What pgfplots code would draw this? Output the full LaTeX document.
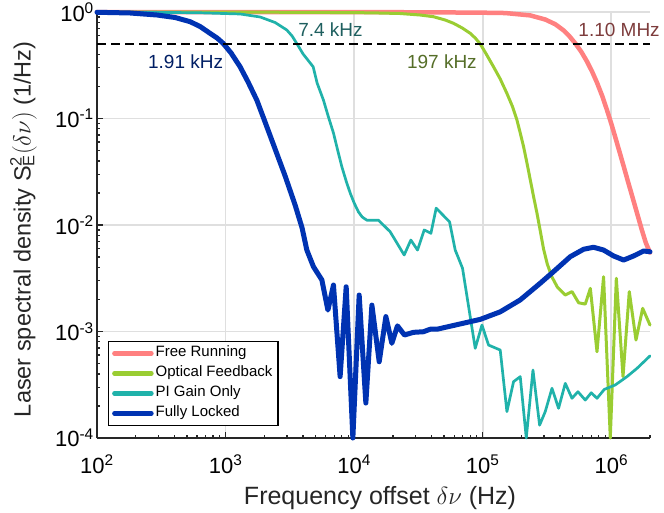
\documentclass[border=0pt]{standalone}
\usepackage[no-math]{fontspec}
\setmainfont{Liberation Sans}
\usepackage{pgfplots}
\pgfplotsset{compat=1.18}
\definecolor{cFree}{RGB}{255,128,128}
\definecolor{cOpt}{RGB}{154,205,50}
\definecolor{cPI}{RGB}{32,178,170}
\definecolor{cFull}{RGB}{0,51,178}
\definecolor{tFree}{RGB}{125,60,60}
\definecolor{tOpt}{RGB}{85,110,40}
\definecolor{tPI}{RGB}{30,95,95}
\definecolor{tFull}{RGB}{0,30,100}
\definecolor{axisc}{RGB}{38,38,38}
\definecolor{gridc}{RGB}{223,223,223}
\begin{document}
\begin{tikzpicture}
\useasboundingbox (-97bp,-75bp) rectangle (567bp,438bp);
\begin{axis}[
 at={(0,0)}, anchor=south west,
 scale only axis, width=553bp, height=426bp,
 xmode=log, ymode=log,
 xmin=100, xmax=2e6, ymin=1e-4, ymax=1,
 enlargelimits=false,
 clip=false,
 axis lines=left,
 axis line style={-, line width=1.8bp, draw=axisc},
 tick align=inside,
 major tick length=6bp, minor tick length=3.5bp,
 tick style={line width=1.3bp, draw=axisc},
 xtick={1e2,1e3,1e4,1e5,1e6},
 xticklabels={10\textsuperscript{2},10\textsuperscript{3},10\textsuperscript{4},10\textsuperscript{5},10\textsuperscript{6}},
 minor xtick={200,300,400,500,600,700,800,900,2000,3000,4000,5000,6000,7000,8000,9000,20000,30000,40000,50000,60000,70000,80000,90000,200000,300000,400000,500000,600000,700000,800000,900000,2000000},
 ytick={1e-4,1e-3,1e-2,1e-1,1},
 yticklabels={10\textsuperscript{-4},10\textsuperscript{-3},10\textsuperscript{-2},10\textsuperscript{-1},10\textsuperscript{0}},
 minor ytick={2e-4,3e-4,4e-4,5e-4,6e-4,7e-4,8e-4,9e-4,2e-3,3e-3,4e-3,5e-3,6e-3,7e-3,8e-3,9e-3,2e-2,3e-2,4e-2,5e-2,6e-2,7e-2,8e-2,9e-2,0.2,0.3,0.4,0.5,0.6,0.7,0.8,0.9},
 grid=major,
 major grid style={line width=1.8bp, draw=gridc},
 ticklabel style={font=\fontsize{22bp}{26bp}\selectfont, text=black, inner sep=0pt},
 xticklabel style={anchor=north, yshift=-17bp},
 yticklabel style={anchor=east, xshift=-3bp},
 xlabel={Frequency offset $\delta\nu$ (Hz)},
 ylabel={Laser spectral density S\rlap{\textsuperscript{2}}\textsubscript{E}$(\delta\nu)$ (1/Hz)},
 label style={inner sep=0pt, text=axisc},
 xlabel style={font=\fontsize{25bp}{29bp}\selectfont, at={(axis description cs:0.5118,-0.157)}, anchor=base},
 ylabel style={font=\fontsize{23.5bp}{28bp}\selectfont, at={(axis description cs:-0.1085,0.49)}, anchor=south},
 legend style={at={(axis description cs:0.0199,0.0282)}, anchor=south west, draw=black, line width=1.3bp, fill=white,
   font=\fontsize{15bp}{18bp}\selectfont, inner xsep=3.5bp, inner ysep=2bp, row sep=0pt,
   nodes={inner xsep=2bp, inner ysep=2.5bp, text height=11bp, text depth=4bp}},
 legend cell align=left,
 legend image code/.code={\draw[#1, line width=4.5bp] (0bp,0bp) -- (37bp,0bp);},
 every axis plot/.append style={line join=round, line cap=round},
]
\addplot[cFree, line width=4.5bp] coordinates {
(100,1) (3801,0.999) (22800,0.995) (55850,0.99) (95700,0.986) (149700,0.978) (234400,0.929) (306500,0.850) (366600,0.768) (425400,0.672) (471200,0.594) (524700,0.508) (584200,0.423) (647100,0.343) (711500,0.273) (774000,0.2173) (851100,0.162) (924700,0.1204) (1000000,0.0894) (1074000,0.0667) (1154000,0.0494) (1247000,0.0357) (1356000,0.02495) (1492000,0.01673) (1608000,0.01217) (1734000,0.00886) (1855000,0.00681) (2000000,0.0055)
};
\addlegendentry{Free Running}
\addplot[cOpt, line width=3bp] coordinates {
(100,1) (3801,0.994) (13320,0.983) (22800,0.968) (32630,0.937) (41400,0.903) (51080,0.841) (59300,0.783) (69250,0.708) (79900,0.631) (87420,0.570) (95700,0.501) (106500,0.403) (121300,0.306) (136800,0.235) (154200,0.172) (169700,0.131) (184500,0.0968) (195800,0.0731) (207800,0.0544) (220800,0.0382) (234400,0.0265) (248500,0.0185) (264200,0.0129) (280300,0.00879) (297200,0.00596) (317700,0.00430) (345500,0.00325) (380100,0.00262) (438600,0.00220) (494500,0.00237) (557200,0.00186) (627600,0.00181) (687100,0.00254) (774000,0.000646) (870700,0.00327) (982000,0.0001) (1094000,0.00316) (1233000,0.000377) (1380000,0.00237) (1556000,0.000832) (1754000,0.00165) (2000000,0.00115)
};
\addlegendentry{Optical Feedback}
\addplot[cPI, line width=2.7bp] coordinates {
(100,1) (258.5,0.994) (633.3,0.983) (1297,0.958) (1856,0.898) (2428,0.797) (2992,0.678) (3293,0.595) (3597,0.501) (4010,0.403) (4800,0.306) (5154,0.215) (5770,0.149) (6277,0.1055) (6905,0.0731) (7438,0.0506) (8020,0.0353) (8663,0.0259) (9310,0.0200) (10000,0.0161) (10790,0.0133) (11540,0.0119) (12550,0.0111) (15450,0.0111) (19050,0.00865) (24490,0.00523) (27610,0.00723) (31100,0.00582) (35070,0.00898) (39540,0.00836) (43460,0.0144) (55200,0.0107) (61100,0.00582) (69660,0.00392) (87430,0.000695) (98620,0.00115) (111000,0.000746) (136800,0.000670) (154200,0.000177) (173700,0.000338) (195800,0.000377) (218100,0.0001) (245900,0.000435) (276900,0.000132) (306400,0.000177) (345700,0.000293) (389000,0.000190) (438600,0.000326) (494500,0.000236) (550000,0.000272) (627600,0.000227) (698300,0.000266) (774000,0.000236) (882200,0.000286) (1074000,0.000315) (1324000,0.000377) (1585000,0.000451) (2000000,0.00059)
};
\addlegendentry{PI Gain Only}
\addplot[cFull, line width=5bp] coordinates {
(100,0.994) (180.6,0.979) (293,0.937) (404.6,0.888) (530,0.811) (633.3,0.731) (757,0.631) (858.9,0.570) (957,0.508) (1104,0.412) (1297,0.306) (1497,0.220) (1749,0.149) (2028,0.0927) (2428,0.0517) (2904,0.0289) (3475,0.0154) (3938,0.00937) (4285,0.00582) (4824,0.00406) (5610,0.00305) (6250,0.00159) (6905,0.00273) (7780,0.000377) (8670,0.00263) (9770,0.0001) (10940,0.00220) (12330,0.000213) (13740,0.00177) (15660,0.000520) (17650,0.00138) (19640,0.000775) (21720,0.00113) (24620,0.000927) (28900,0.000982) (34590,0.000995) (38990,0.00105) (44030,0.00105) (95700,0.00130) (136800,0.00153) (195800,0.00198) (280000,0.00284) (355500,0.00365) (479600,0.00504) (608700,0.00592) (727800,0.00618) (870700,0.00582) (1042000,0.00512) (1247000,0.00469) (1492000,0.00512) (1784000,0.00570) (2000000,0.00561)
};
\addlegendentry{Fully Locked}
\addplot[black, line width=2.2bp, dash pattern=on 9bp off 5bp, line cap=butt, forget plot] coordinates {(100,0.5) (2000000,0.5)};
\node[anchor=base west, inner sep=0pt, text=tPI, font=\fontsize{19bp}{22bp}\selectfont] at (axis cs:3664,0.589) {7.4 kHz};
\node[anchor=base west, inner sep=0pt, text=tFull, font=\fontsize{19bp}{22bp}\selectfont] at (axis cs:249,0.292) {1.91 kHz};
\node[anchor=base west, inner sep=0pt, text=tOpt, font=\fontsize{19bp}{22bp}\selectfont] at (axis cs:25700,0.292) {197 kHz};
\node[anchor=base west, inner sep=0pt, text=tFree, font=\fontsize{19bp}{22bp}\selectfont] at (axis cs:553400,0.589) {1.10 MHz};
\end{axis}
\end{tikzpicture}
\end{document}
